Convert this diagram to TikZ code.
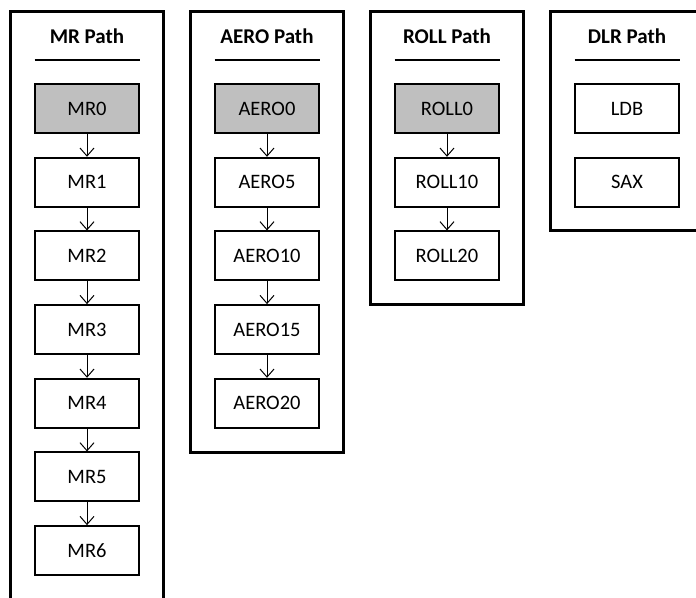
\documentclass[tikz,border=0pt]{standalone}
\usepackage{fontspec}
\setmainfont{Carlito}
\usetikzlibrary{arrows.meta}
\definecolor{boxgray}{RGB}{191,191,191}
\tikzset{
  panel/.style={draw=black, line width=3pt, fill=white},
  stagebox/.style={draw=black, line width=1.8pt, fill=white, minimum width=104pt, minimum height=49pt, inner sep=0pt, font=\fontsize{20.5}{23}\selectfont},
  firstbox/.style={stagebox, fill=boxgray},
  paneltitle/.style={font=\fontsize{21}{25}\selectfont\bfseries, inner sep=0pt},
  titlerule/.style={line width=2pt},
  flow/.style={line width=1pt, -{Straight Barb[length=8pt,width=14pt,line width=1pt]}}
}
\begin{document}
\begin{tikzpicture}[x=1pt,y=-1pt]
\useasboundingbox (0,0) rectangle (696,597);
\clip (0,0) rectangle (696,597);
% panels
\draw[panel] (10.5,11) rectangle (163.5,620);
\draw[panel] (190.5,11) rectangle (343.5,452);
\draw[panel] (370.5,11) rectangle (523.5,304);
\draw[panel] (550.5,11) rectangle (703.5,230);
% titles
\foreach \cx/\t [count=\i] in {87/MR Path,267/AERO Path,447/ROLL Path,627/DLR Path}{
  \node[paneltitle] (title\i) at (\cx,36) {\t};
  \draw[titlerule] (\cx-52.5,60) -- (\cx+52.5,60);
}
% MR
\node[firstbox] (mr0) at (87,108.5) {MR0};
\foreach \n [count=\i from 1] in {1,...,6}{
  \node[stagebox] (mr\n) at (87,108.5+73.67*\i) {MR\n};
}
\foreach \a/\b in {0/1,1/2,2/3,3/4,4/5,5/6}{
  \draw[flow] (mr\a.south) -- (mr\b.north);
}
% AERO
\node[firstbox] (aero0) at (267,108.5) {AERO0};
\node[stagebox] (aero5) at (267,182.2) {AERO5};
\node[stagebox] (aero10) at (267,255.8) {AERO10};
\node[stagebox] (aero15) at (267,329.5) {AERO15};
\node[stagebox] (aero20) at (267,403.2) {AERO20};
\draw[flow] (aero0.south) -- (aero5.north);
\draw[flow] (aero5.south) -- (aero10.north);
\draw[flow] (aero10.south) -- (aero15.north);
\draw[flow] (aero15.south) -- (aero20.north);
% ROLL
\node[firstbox] (roll0) at (447,108.5) {ROLL0};
\node[stagebox] (roll10) at (447,182.2) {ROLL10};
\node[stagebox] (roll20) at (447,255.8) {ROLL20};
\draw[flow] (roll0.south) -- (roll10.north);
\draw[flow] (roll10.south) -- (roll20.north);
% DLR
\node[stagebox] (ldb) at (627,108.5) {LDB};
\node[stagebox] (sax) at (627,182.2) {SAX};
\end{tikzpicture}
\end{document}
